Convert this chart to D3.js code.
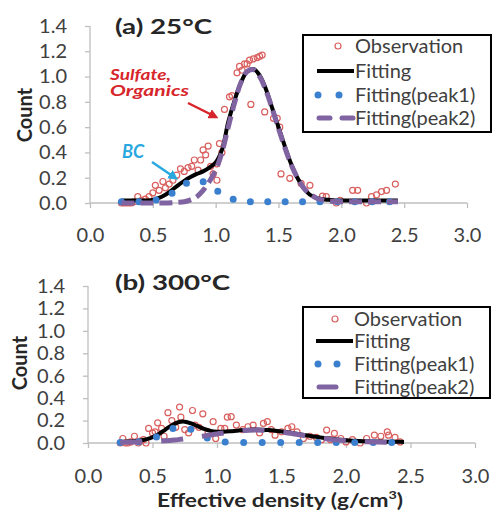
<!DOCTYPE html>
<html><head><meta charset="utf-8">
<script src="https://cdn.jsdelivr.net/npm/d3@7"></script>
<style>
html,body{margin:0;padding:0;background:#fff;}
svg{display:block;font-family:Lato,"Noto Sans",sans-serif;}
</style></head>
<body>
<svg id="chart" width="494" height="513"></svg>
<script>
// ---------- DATA ----------
const yTicks = [0.0, 0.2, 0.4, 0.6, 0.8, 1.0, 1.2, 1.4];
const xTicks = [0.0, 0.5, 1.0, 1.5, 2.0, 2.5, 3.0];
const seriesNames = ["Observation", "Fitting", "Fitting(peak1)", "Fitting(peak2)"];

// fitted-curve x grid (g/cm3)
const xFit = [0.25,0.30,0.35,0.40,0.45,0.50,0.55,0.60,0.65,0.70,0.75,0.80,0.85,0.90,0.95,1.00,
  1.05,1.10,1.15,1.20,1.25,1.30,1.35,1.40,1.45,1.50,1.55,1.60,1.65,1.70,1.75,1.80,1.85,1.90,
  1.95,2.00,2.05,2.10,2.15,2.20,2.25,2.30,2.35,2.40,2.45];

// (a) 25°C
const obsA_x = [0.25,0.27,0.29,0.31,0.33,0.35,0.38,0.41,0.44,0.47,0.50,0.52,0.55,0.58,0.60,0.63,
  0.66,0.69,0.72,0.75,0.78,0.81,0.83,0.86,0.88,0.90,0.92,0.94,0.96,0.98,1.01,1.01,1.03,1.05,1.07,
  1.11,1.13,1.17,1.19,1.21,1.23,1.25,1.27,1.28,1.30,1.33,1.35,1.37,1.39,1.46,1.49,1.51,1.52,1.59,
  1.68,1.75,1.85,1.88,1.96,1.99,2.09,2.13,2.20,2.24,2.28,2.32,2.36,2.43];
const obsA_y = [0.00,0.00,0.00,0.00,0.00,0.01,0.05,0.02,0.03,0.05,0.08,0.14,0.10,0.17,0.12,0.15,
  0.18,0.22,0.27,0.25,0.28,0.29,0.34,0.26,0.34,0.42,0.38,0.45,0.29,0.23,0.31,0.18,0.47,0.40,0.74,
  0.84,0.85,1.03,1.08,1.05,1.10,1.10,1.13,0.78,1.14,1.15,1.16,1.17,0.72,0.67,0.67,0.60,0.23,0.195,
  0.155,0.14,0.055,0.05,0.00,0.02,0.10,0.10,0.00,0.05,0.065,0.09,0.10,0.15];
const fitA = [0.02,0.02,0.02,0.02,0.02,0.025,0.04,0.065,0.10,0.14,0.175,0.205,0.23,0.25,0.28,0.32,
  0.42,0.64,0.81,0.95,1.04,1.06,1.01,0.90,0.75,0.60,0.45,0.31,0.20,0.12,0.065,0.04,0.03,0.025,
  0.02,0.02,0.02,0.02,0.02,0.02,0.02,0.02,0.02,0.02,0.02];
const peak1A = [0.01,0.01,0.01,0.011,0.014,0.02,0.03,0.048,0.075,0.11,0.145,0.17,0.178,0.168,0.14,0.105,
  0.07,0.045,0.027,0.017,0.012,0.01,0.01,0.01,0.01,0.01,0.01,0.01,0.01,0.01,0.01,0.01,0.01,0.01,
  0.01,0.01,0.01,0.01,0.01,0.01,0.01,0.01,0.01,0.01,0.01];
const peak2A = [0.0,0.0,0.0,0.0,0.0,0.0,0.0,0.0,0.002,0.005,0.01,0.025,0.05,0.10,0.17,0.26,
  0.40,0.60,0.79,0.95,1.04,1.055,1.0,0.89,0.745,0.59,0.44,0.305,0.20,0.12,0.07,0.04,0.025,0.015,
  0.012,0.01,0.01,0.01,0.01,0.01,0.01,0.01,0.01,0.01,0.01];

// (b) 300°C
const obsB_x = [0.25,0.27,0.29,0.31,0.33,0.36,0.39,0.41,0.43,0.45,0.47,0.50,0.52,0.54,0.57,0.59,
  0.62,0.65,0.68,0.71,0.72,0.75,0.78,0.81,0.83,0.86,0.89,0.93,0.97,0.99,1.03,1.06,1.08,1.11,1.15,
  1.20,1.24,1.28,1.33,1.36,1.39,1.42,1.45,1.50,1.55,1.58,1.62,1.67,1.72,1.77,1.81,1.85,1.88,1.91,
  1.96,2.00,2.05,2.11,2.16,2.22,2.27,2.32,2.33,2.38,2.42];
const obsB_y = [0.00,0.04,0.00,0.00,0.01,0.06,0.00,0.02,0.03,0.00,0.13,0.09,0.10,0.18,0.13,0.06,
  0.27,0.20,0.14,0.32,0.23,0.12,0.09,0.29,0.16,0.14,0.26,0.10,0.19,0.04,0.13,0.13,0.23,0.235,0.16,
  0.12,0.145,0.16,0.09,0.175,0.19,0.12,0.07,0.10,0.13,0.145,0.10,0.04,0.06,0.05,0.03,0.115,0.03,0.085,
  0.04,0.01,0.03,0.00,0.04,0.07,0.06,0.10,0.07,0.05,0.01];
const fitB = [0.01,0.013,0.015,0.021,0.032,0.051,0.081,0.12,0.158,0.185,0.19,0.175,0.15,0.125,0.108,0.10,
  0.10,0.104,0.11,0.116,0.119,0.12,0.119,0.116,0.11,0.103,0.095,0.086,0.077,0.067,0.058,0.05,0.042,0.035,
  0.03,0.025,0.021,0.018,0.016,0.014,0.013,0.012,0.011,0.011,0.01];
const peak1B = [0.005,0.006,0.007,0.012,0.021,0.038,0.065,0.096,0.126,0.143,0.141,0.121,0.09,0.059,0.034,0.019,
  0.011,0.007,0.005,0.005,0.005,0.005,0.005,0.005,0.005,0.005,0.005,0.005,0.005,0.005,0.005,0.005,0.005,0.005,
  0.005,0.005,0.005,0.005,0.005,0.005,0.005,0.005,0.005,0.005,0.005];
const peak2B = [0.006,0.007,0.008,0.009,0.011,0.013,0.016,0.02,0.025,0.03,0.037,0.045,0.053,0.062,0.072,0.081,
  0.09,0.098,0.105,0.111,0.114,0.115,0.114,0.111,0.105,0.098,0.09,0.081,0.072,0.062,0.053,0.045,0.037,0.03,
  0.025,0.02,0.016,0.013,0.011,0.009,0.008,0.007,0.006,0.006,0.005];

// ---------- DRAW ----------
const svg = d3.select("#chart");
const TXT = "#404040", AX = "#bfbfbf";
const C_OBS = "#d9605f", C_P1 = "#3b7fcf", C_P2 = "#8064a2";

function panel(cfg) {
  const x = d3.scaleLinear().domain([0, 3]).range([cfg.left, cfg.right]);
  const y = d3.scaleLinear().domain([0, 1.4]).range([cfg.bottom, cfg.top]);
  const g = svg.append("g");

  const ya = d3.axisLeft(y).tickValues(yTicks).tickSize(5).tickPadding(18).tickFormat(d3.format(".1f"));
  const gy = g.append("g").attr("transform", `translate(${cfg.left},0)`).call(ya);
  const xa = d3.axisBottom(x).tickValues(xTicks).tickSize(5).tickPadding(cfg.xpad).tickFormat(d3.format(".1f"));
  const gx = g.append("g").attr("transform", `translate(0,${cfg.bottom})`).call(xa);
  [gx, gy].forEach(a => {
    a.selectAll("path.domain").attr("stroke", AX).attr("stroke-width", 1.3);
    a.selectAll(".tick line").attr("stroke", AX).attr("stroke-width", 1.3);
    a.selectAll(".tick text").attr("fill", TXT).attr("font-size", 20)
      .attr("font-family", "Lato, sans-serif");
  });
  gy.select("path.domain").attr("d", `M0,${cfg.top}V${cfg.bottom}`);
  gx.select("path.domain").attr("d", `M${cfg.left},0H${cfg.right}`);

  g.append("text").attr("x", 115).attr("y", cfg.titleY).attr("font-size", 21).attr("font-weight", "bold")
    .attr("fill", "#262626").attr("textLength", cfg.titleLen).attr("lengthAdjust", "spacingAndGlyphs")
    .text(cfg.title);
  g.append("text").attr("transform", `translate(${cfg.ylabX},${cfg.ylabY}) rotate(-90)`)
    .attr("text-anchor", "middle").attr("font-size", 20).attr("font-weight", "bold").attr("fill", "#262626")
    .text("Count");

  g.append("g").selectAll("circle").data(cfg.ox.map((v, i) => [v, cfg.oy[i]])).join("circle")
    .attr("cx", d => x(d[0])).attr("cy", d => y(d[1])).attr("r", 3)
    .attr("fill", "none").attr("stroke", C_OBS).attr("stroke-width", 1.2);

  const line = arr => d3.line().x((d, i) => x(xFit[i])).y(d => y(d)).curve(d3.curveCatmullRom)(arr);
  g.append("path").attr("d", line(cfg.fit)).attr("fill", "none").attr("stroke", "#000").attr("stroke-width", 4);
  g.append("path").attr("d", line(cfg.p1)).attr("fill", "none").attr("stroke", C_P1).attr("stroke-width", 7)
    .attr("stroke-linecap", "round").attr("stroke-dasharray", cfg.dot);
  g.append("path").attr("d", line(cfg.p2)).attr("fill", "none").attr("stroke", C_P2).attr("stroke-width", 5)
    .attr("stroke-dasharray", cfg.dash);

  const L = cfg.leg;
  const lg = g.append("g");
  lg.append("rect").attr("x", L.x).attr("y", L.y).attr("width", L.w).attr("height", L.h)
    .attr("fill", "#fff").attr("stroke", "#000").attr("stroke-width", 2);
  seriesNames.forEach((name, i) => {
    const cy = L.rows[i];
    lg.append("text").attr("x", L.tx).attr("y", cy + 7).attr("font-size", 20).attr("fill", TXT).text(name);
  });
  lg.append("circle").attr("cx", L.obsX).attr("cy", L.rows[0]).attr("r", 3).attr("fill", "none")
    .attr("stroke", C_OBS).attr("stroke-width", 1.2);
  lg.append("line").attr("x1", L.sx0).attr("x2", L.sx1).attr("y1", L.rows[1]).attr("y2", L.rows[1])
    .attr("stroke", "#000").attr("stroke-width", 4);
  L.dots.forEach(dx => lg.append("circle").attr("cx", dx).attr("cy", L.rows[2]).attr("r", 3.5).attr("fill", C_P1));
  L.dashes.forEach(dd => lg.append("line").attr("x1", dd[0]).attr("x2", dd[1]).attr("y1", L.rows[3]).attr("y2", L.rows[3])
    .attr("stroke", C_P2).attr("stroke-width", 5).attr("stroke-linecap", "round"));
  return {x, y, g};
}

panel({left: 90, right: 467, top: 26, bottom: 203, xpad: 20, title: "(a) 25°C", titleY: 34, titleLen: 97,
  ylabX: 32, ylabY: 115, ox: obsA_x, oy: obsA_y, fit: fitA, p1: peak1A, p2: peak2A,
  dot: "0,17.4", dash: "13,6",
  leg: {x: 303, y: 35, w: 188, h: 97, rows: [46, 71, 95, 118], tx: 355, obsX: 338, sx0: 317, sx1: 354,
    dots: [318, 339], dashes: [[319, 330], [342, 353]]}});

panel({left: 88, right: 475, top: 286, bottom: 443, xpad: 21, title: "(b) 300°C", titleY: 290, titleLen: 115,
  ylabX: 27, ylabY: 363, ox: obsB_x, oy: obsB_y, fit: fitB, p1: peak1B, p2: peak2B,
  dot: "0,18.5", dash: "22,19",
  leg: {x: 303, y: 307, w: 187, h: 91, rows: [319, 341, 364, 387], tx: 354, obsX: 335, sx0: 316, sx1: 353,
    dots: [318, 337], dashes: [[319, 336]]}});

// x-axis title
const xt = svg.append("text").attr("x", 280).attr("y", 507).attr("text-anchor", "middle").attr("font-size", 19)
  .attr("font-weight", "bold").attr("fill", "#262626").attr("textLength", 246).attr("lengthAdjust", "spacingAndGlyphs");
xt.append("tspan").text("Effective density (g/cm");
xt.append("tspan").attr("font-size", 12).attr("dy", -8).text("3");
xt.append("tspan").attr("dy", 8).text(")");

// annotations
const defs = svg.append("defs");
[["arR", "#d7262b"], ["arB", "#29a8e0"]].forEach(([id, c]) => {
  defs.append("marker").attr("id", id).attr("viewBox", "0 0 10 10").attr("refX", 5).attr("refY", 5)
    .attr("markerWidth", 4).attr("markerHeight", 4).attr("orient", "auto")
    .append("path").attr("d", "M0,0L10,5L0,10z").attr("fill", c);
});
svg.append("text").attr("x", 110).attr("y", 80).attr("font-size", 14.5).attr("font-weight", "bold")
  .attr("font-style", "italic").attr("fill", "#d7262b").attr("textLength", 61).attr("lengthAdjust", "spacingAndGlyphs").text("Sulfate,");
svg.append("text").attr("x", 110).attr("y", 96).attr("font-size", 14.5).attr("font-weight", "bold")
  .attr("font-style", "italic").attr("fill", "#d7262b").attr("textLength", 79).attr("lengthAdjust", "spacingAndGlyphs").text("Organics");
svg.append("line").attr("x1", 188).attr("y1", 103).attr("x2", 214).attr("y2", 116)
  .attr("stroke", "#d7262b").attr("stroke-width", 2.5).attr("marker-end", "url(#arR)");
svg.append("text").attr("x", 122).attr("y", 158).attr("font-size", 18).attr("font-weight", "bold")
  .attr("font-style", "italic").attr("fill", "#29a8e0").text("BC");
svg.append("line").attr("x1", 152).attr("y1", 162).attr("x2", 174).attr("y2", 177)
  .attr("stroke", "#29a8e0").attr("stroke-width", 2.5).attr("marker-end", "url(#arB)");
</script>
</body></html>
